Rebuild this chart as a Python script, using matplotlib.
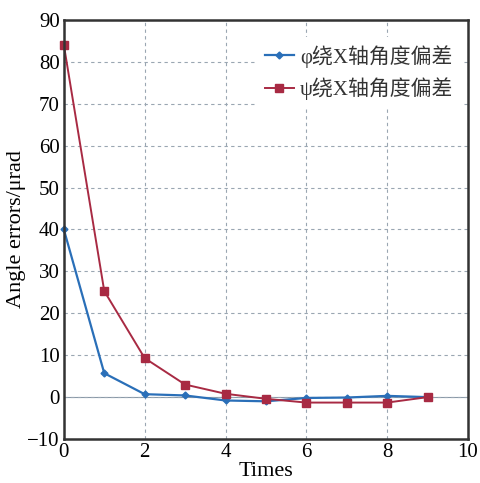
import matplotlib
matplotlib.use("Agg")
import matplotlib.pyplot as plt

# data
times = [0, 1, 2, 3, 4, 5, 6, 7, 8, 9]
phi_err = [40.0, 5.7, 0.7, 0.4, -0.8, -1.0, -0.2, -0.1, 0.3, 0.0]
psi_err = [84.0, 25.3, 9.3, 3.0, 0.8, -0.4, -1.3, -1.3, -1.3, 0.0]
labels = ["\u03c6绕X轴角度偏差", "\u03c8绕X轴角度偏差"]

plt.rcParams['font.family'] = ['Liberation Serif', 'Noto Sans CJK SC']

fig = plt.figure(figsize=(4.8, 4.83), dpi=100)
ax = fig.add_axes([0.133, 0.091, 0.842, 0.868])

ax.plot(times, phi_err, color='#2a6fb8', lw=1.6, marker='D', ms=3.5,
        label=labels[0], clip_on=False, zorder=3)
ax.plot(times, psi_err, color='#a82a43', lw=1.4, marker='s', ms=5.5,
        label=labels[1], clip_on=False, zorder=3)
ax.axhline(0, color='#8a9aa8', lw=0.8, zorder=1)

ax.set_xlim(0, 10)
ax.set_ylim(-10, 90)
ax.set_xticks(range(0, 11, 2))
ax.set_yticks(range(-10, 91, 10))
ax.set_yticklabels(['\u221210'] + [str(v) for v in range(0, 91, 10)])
ax.grid(True, color='#9aa6b2', ls=(0, (3, 3)), lw=0.8)
ax.tick_params(length=0, labelsize=15, pad=3)

for s in ax.spines.values():
    s.set_linewidth(1.8)
    s.set_color('#333333')
    s.set_zorder(4)

ax.set_xlabel('Times', fontsize=16, labelpad=0)
ax.set_ylabel('Angle errors/\u03bcrad', fontsize=16, labelpad=1)

leg = ax.legend(loc='upper right', bbox_to_anchor=(1.0, 0.975), frameon=True,
                fontsize=15, handlelength=1.4, handletextpad=0.3,
                borderaxespad=0.3, labelspacing=0.45)
leg.get_frame().set_edgecolor('none')
leg.get_frame().set_facecolor('white')
leg.get_frame().set_alpha(1)
for t in leg.get_texts():
    t.set_color('#333333')

fig.savefig('out.png', dpi=100)
